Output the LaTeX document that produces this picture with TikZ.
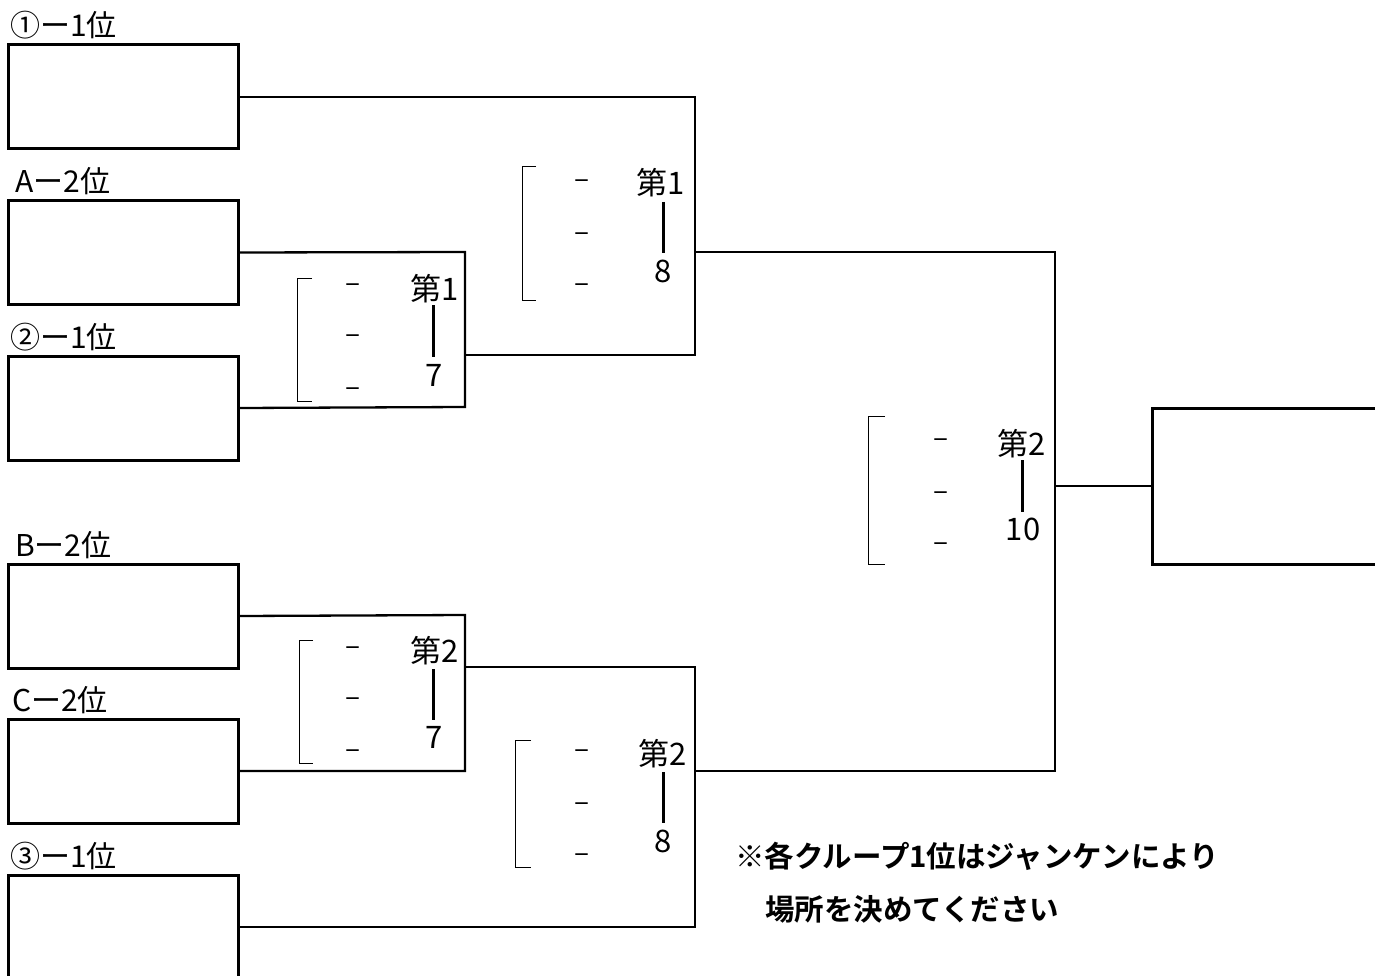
\documentclass[tikz,border=0pt]{standalone}
\usepackage{fontspec}
\setmainfont{Noto Sans CJK JP}
\newfontfamily\notebold{Noto Sans CJK JP Bold}
\begin{document}
\begin{tikzpicture}[x=1pt,y=-1pt,
  entry/.style={draw, line width=3pt, minimum width=230pt, minimum height=104pt, inner sep=0pt},
  conn/.style={line width=2.3pt},
  thinconn/.style={line width=1.2pt},
  brack/.style={line width=1pt},
  vbar/.style={line width=3pt},
  lab/.style={anchor=base west, inner sep=0pt, font=\fontsize{30}{34}\selectfont},
  rnd/.style={anchor=base, inner sep=0pt, font=\fontsize{31}{34}\selectfont},
  dsh/.style={anchor=center, inner sep=0pt, font=\fontsize{28}{30}\selectfont},
  note/.style={anchor=base west, inner sep=0pt, font=\notebold\fontsize{29.5}{32}\selectfont}]
\clip (0,0) rectangle (1375,976);
\fill[white] (0,0) rectangle (1375,976);

% entry boxes
\node[entry] (b1) at (123,97) {};
\node[entry] (b2) at (123,252.5) {};
\node[entry] (b3) at (123,408) {};
\node[entry] (b4) at (123,616) {};
\node[entry] (b5) at (123,771) {};
\node[entry, minimum height=125pt] (b6) at (123,937.5) {};
\node[entry, minimum width=250pt, minimum height=156pt] (fin) at (1277,486) {};

% labels
\node[lab] (l1) at (10,37) {①ー1位};
\node[lab] (l2) at (15,193) {Aー2位};
\node[lab] (l3) at (10,348) {②ー1位};
\node[lab] (l4) at (15,556) {Bー2位};
\node[lab] (l5) at (12,711) {Cー2位};
\node[lab] (l6) at (10,867) {③ー1位};

% junction coordinates
\coordinate (t7a) at (465,252);
\coordinate (t7b) at (465,407);
\coordinate (t7o) at (465,355);
\coordinate (t8a) at (695,97);
\coordinate (t8b) at (695,355);
\coordinate (t8o) at (695,252);
\coordinate (fa) at (1055,252);
\coordinate (fb) at (1055,771);
\coordinate (fo) at (1055,486);
\coordinate (u7a) at (465,615);
\coordinate (u7b) at (465,771);
\coordinate (u7o) at (465,667);
\coordinate (u8a) at (695,667);
\coordinate (u8b) at (695,927);
\coordinate (u8o) at (695,771);

% connectors
\draw[conn] (b2.east) -- (t7a) -- (t7b) -- (b3.east);
\draw[conn] (b1.east) -- (t8a) -- (t8b) -- (t7o);
\draw[conn] (t8o) -- (fa) -- (fb) -- (u8o);
\draw[thinconn] (fo) -- (fin.west);
\draw[conn] (b4.east) -- (u7a) -- (u7b) -- (b5.east);
\draw[conn] (u7o) -- (u8a) -- (u8b) -- (b6.east |- u8b);

% round 1 top (7)
\draw[brack] (312,278) -- (297,278) -- (297,401) -- (312,401);
\node[dsh] (d1a) at (353,288) {–};
\node[dsh] (d1b) at (353,339) {–};
\node[dsh] (d1c) at (353,392) {–};
\node[rnd] (r1) at (435,300) {第1};
\node[rnd] (n1) at (434,386) {7};
\draw[vbar] (433,305) -- (433,357);

% round 2 top (8)
\draw[brack] (536,167) -- (522,167) -- (522,300) -- (536,300);
\node[dsh] (d2a) at (582,184) {–};
\node[dsh] (d2b) at (582,237) {–};
\node[dsh] (d2c) at (582,288) {–};
\node[rnd] (r2) at (661,195) {第1};
\node[rnd] (n2) at (663,282) {8};
\draw[vbar] (663,202) -- (663,253);

% final (10)
\draw[brack] (885,416) -- (868,416) -- (868,564) -- (885,564);
\node[dsh] (d3a) at (941,443) {–};
\node[dsh] (d3b) at (941,496) {–};
\node[dsh] (d3c) at (941,547) {–};
\node[rnd] (r3) at (1022,455) {第2};
\node[rnd] (n3) at (1023,540) {10};
\draw[vbar] (1022,460) -- (1022,512);

% round 1 bottom (7)
\draw[brack] (313,640) -- (299,640) -- (299,763) -- (313,763);
\node[dsh] (d4a) at (353,651) {–};
\node[dsh] (d4b) at (353,702) {–};
\node[dsh] (d4c) at (353,754) {–};
\node[rnd] (r4) at (435,662) {第2};
\node[rnd] (n4) at (434,748) {7};
\draw[vbar] (433,669) -- (433,720);

% round 2 bottom (8)
\draw[brack] (531,740) -- (515,740) -- (515,867) -- (531,867);
\node[dsh] (d5a) at (582,754) {–};
\node[dsh] (d5b) at (582,807) {–};
\node[dsh] (d5c) at (582,858) {–};
\node[rnd] (r5) at (663,765) {第2};
\node[rnd] (n5) at (663,852) {8};
\draw[vbar] (663,772) -- (663,823);

% note
\node[note] (nt1) at (735,867) {※各クループ1位はジャンケンにより};
\node[note] (nt2) at (765,920) {場所を決めてください};
\end{tikzpicture}
\end{document}
